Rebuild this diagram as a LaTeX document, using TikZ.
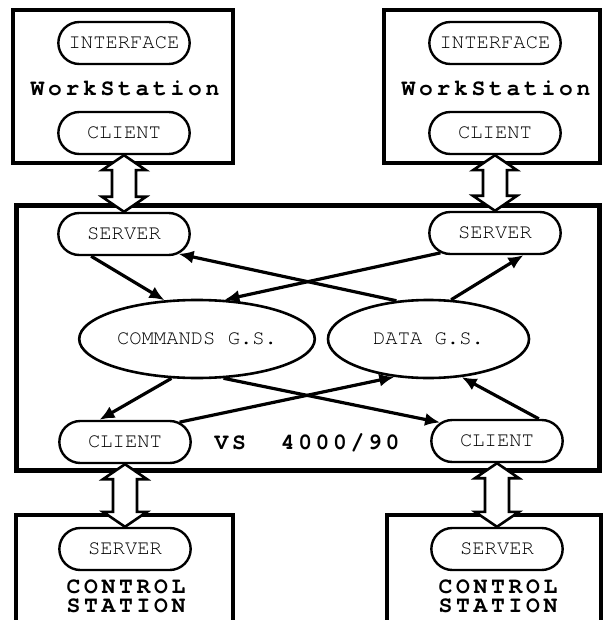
\documentclass[tikz,border=0pt]{standalone}
\usepackage{fontspec}
\newfontfamily\pillfont{texgyrecursor-regular.otf}
\newfontfamily\titlefont[LetterSpace=16]{texgyrecursor-bold.otf}
\usetikzlibrary{shapes.geometric,shapes.misc,arrows.meta,calc}

% hollow two-headed arrow from the bottom of #1 to the top of #2
\newcommand{\hollowlink}[2]{%
  \draw[hollow] (#1.south) -- ++(-22pt,-15pt) -- ++(10pt,0pt)
    -- ($(#2.north)+(-12pt,15pt)$) -- ++(-10pt,0pt) -- (#2.north)
    -- ++(22pt,15pt) -- ++(-10pt,0pt)
    -- ($(#1.south)+(12pt,-15pt)$) -- ++(10pt,0pt) -- cycle;
}

\begin{document}
\begin{tikzpicture}[
    x=1pt, y=-1pt,
    station/.style={draw, line width=4pt, inner sep=0pt},
    pill/.style={rounded rectangle, draw, line width=2.4pt, minimum width=138pt,
        minimum height=42pt, font=\pillfont\fontsize{20.5}{20}\selectfont},
    store/.style={ellipse, draw, line width=2.6pt, minimum width=201pt,
        minimum height=78pt, font=\pillfont\fontsize{20.5}{20}\selectfont},
    title/.style={font=\titlefont\fontsize{23}{19}\selectfont, align=center, inner sep=0pt},
    link/.style={line width=3.2pt, -{Latex[length=15pt,width=13pt]}},
    hollow/.style={fill=white, line width=2.6pt, line join=miter}
]
\useasboundingbox (0,0) rectangle (604,620);

% Work stations
\foreach \s/\x/\bx/\bw in {L/124/123/220, R/495/492/216} {
    \node[station, minimum width=\bw pt, minimum height=153pt] (ws\s) at (\bx,86.5) {};
    \node[pill] (if\s) at (\x,43) {INTERFACE};
    \node[title] (wst\s) at (\x+1,88) {WorkStation};
    \node[pill] (wc\s) at (\x,133) {CLIENT};
}

% VS 4000/90 host
\node[draw, line width=5pt, minimum width=583pt, minimum height=264pt] (vs) at (307.5,338) {};
\node[title] (vst) at (307,443) {VS~~4000/90};
\node[pill] (ssL) at (124,234) {SERVER};
\node[pill] (ssR) at (495,233) {SERVER};
\node[pill] (ccL) at (125,442) {CLIENT};
\node[pill] (ccR) at (497,441) {CLIENT};
\node[store] (cmd) at (197,339) {COMMANDS G.S.};
\node[store] (dat) at (428.5,339) {DATA G.S.};

% Control stations
\foreach \s/\x/\bx/\bw in {L/125/124.5/217, R/497/494/214} {
    \node[station, minimum width=\bw pt, minimum height=116pt] (cs\s) at (\bx,573) {};
    \node[pill] (sv\s) at (\x,549) {SERVER};
    \node[title] (cst\s) at (\x+1,587) {CONTROL};
    \node[title] (stn\s) at (\x+1,606) {STATION};
}

% Links between stations
\hollowlink{wcL}{ssL}
\hollowlink{wcR}{ssR}
\hollowlink{ccL}{svL}
\hollowlink{ccR}{svR}

% Links inside the host
\foreach \a/\b in {ssL.214/cmd.130, dat.130/ssL.340, ssR.200/cmd.55, dat.60/ssR.322,
                   cmd.237/ccL.139, cmd.304/ccR.162, ccL.20/dat.228, ccR.28/dat.311} {
    \draw[link] (\a) -- (\b);
}
\end{tikzpicture}
\end{document}
